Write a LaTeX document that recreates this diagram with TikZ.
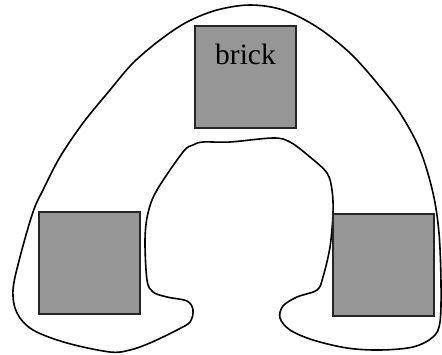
\documentclass[tikz,border=0pt]{standalone}
\usepackage{fontspec}
\setmainfont{Liberation Serif}
\begin{document}
\begin{tikzpicture}[x=1pt,y=-1pt,
  brickbox/.style={draw=black!85,line width=1.6pt,fill={rgb,255:red,150;green,150;blue,150},minimum width=101pt,minimum height=102pt,inner sep=0pt,outer sep=0pt},
  outline/.style={draw=black,line width=1.6pt}]
\useasboundingbox (0,0) rectangle (442,354);
\draw[outline] plot[smooth cycle,tension=0.55] coordinates {
(250,5) (283,10) (317,27) (350,53) (377,83) (400,113) (420,150) (433,193) (439,233) (441,283) (440,322) (433,337) (413,347) (380,350) (347,348) (313,340) (290,330) (280,318) (283,306) (297,297) (317,290) (323,277) (330,247) (333,213) (332,190) (327,173) (310,157) (290,142) (273,138) (230,142) (203,142) (193,145) (183,152) (157,190) (148,213) (145,240) (147,280) (153,292) (167,297) (187,301) (193,310) (190,322) (177,330) (150,343) (130,350) (110,352) (67,343) (33,330) (17,313) (13,290) (20,257) (33,212) (43,190) (60,157) (83,123) (110,90) (133,63) (160,40) (187,22) (217,10)};
\node[brickbox] (top) at (245.5,77) {};
\node[brickbox] (left) at (89.5,263) {};
\node[brickbox] (right) at (383.5,265) {};
\node[anchor=base,inner sep=0pt,font=\fontsize{29.5}{30}\selectfont] (label) at (245.5,64) {brick};
\end{tikzpicture}
\end{document}
